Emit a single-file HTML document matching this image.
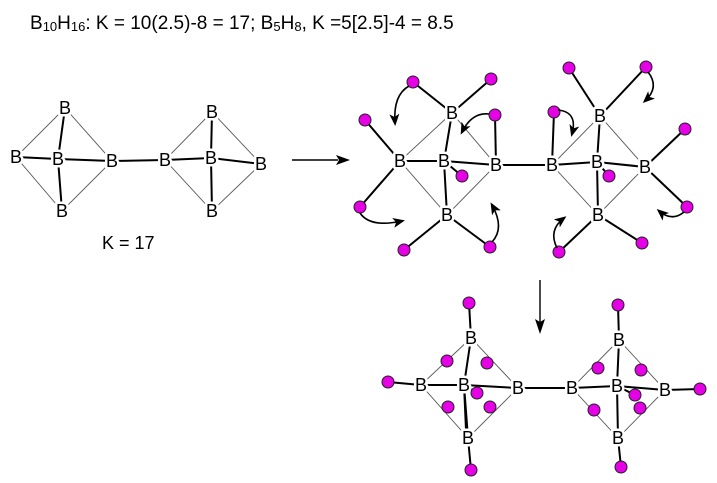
<!DOCTYPE html>
<html><head><style>
body{margin:0;background:#fff;}
svg{display:block;}
text{font-family:"Liberation Sans",sans-serif;fill:#000;}
.b{font-size:18px;text-anchor:middle;dominant-baseline:central;stroke:#fff;stroke-width:5px;paint-order:stroke;stroke-linejoin:round;}
.tn{stroke:#555;stroke-width:0.9;fill:none;}
.tk{stroke:#000;stroke-width:2;fill:none;}
.h{fill:#e600e6;stroke:#222;stroke-width:1;}
.cv{stroke:#000;stroke-width:1.6;fill:none;marker-end:url(#ah);}
</style></head><body>
<svg width="717" height="483" viewBox="0 0 717 483">
<defs><marker id="ah" markerWidth="12" markerHeight="10" refX="9" refY="5" orient="auto" markerUnits="userSpaceOnUse"><path d="M0,0 L12,5 L0,10 L3,5 Z" fill="#000"/></marker></defs>
<text x="30" y="29" font-size="19">B<tspan font-size="13" dy="2">10</tspan><tspan dy="-2">H</tspan><tspan font-size="13" dy="2">16</tspan><tspan dy="-2">: K = 10(2.5)-8 = 17; B</tspan><tspan font-size="13" dy="2">5</tspan><tspan dy="-2">H</tspan><tspan font-size="13" dy="2">8</tspan><tspan dy="-2">, K =5[2.5]-4 = 8.5</tspan></text>

<!-- left molecule -->
<path class="tn" d="M65,108 L16,157 L62,211 L112,161 Z M212,112 L165,160 L212,211 L261,164 Z"/>
<path class="tk" d="M65,108 L58,159 L62,211 M16,157 L58,159 L112,161 L165,160 L211,158 L261,164 M212,112 L211,158 L212,211"/>
<text class="b" x="65" y="108">B</text><text class="b" x="16" y="157">B</text><text class="b" x="58" y="159">B</text><text class="b" x="112" y="161">B</text><text class="b" x="62" y="211">B</text>
<text class="b" x="165" y="160">B</text><text class="b" x="212" y="112">B</text><text class="b" x="211" y="158">B</text><text class="b" x="261" y="164">B</text><text class="b" x="212" y="211">B</text>
<text x="102" y="249" font-size="18">K = 17</text>
<path d="M292,160 L338,160" stroke="#000" stroke-width="1.4"/><path d="M350,160 L336,155 L339,160 L336,165 Z"/>

<!-- middle -->
<path class="tn" d="M452,113 L400,161 L447,215 L496,165 Z M600,116 L552,165 L598,215 L645,167 Z"/>
<path class="tk" d="M452,113 L444,161 L447,215 M400,161 L444,161 L496,165 L552,165 L597,162 L645,167 M600,116 L597,162 L598,215
M413,82 L452,113 L491,79 M365,120 L400,161 L360,207 M404,250 L447,215 L490,247 M495,115 L496,165 M462,176 L444,161
M569,68 L600,116 L646,67 M554,112 L552,165 M685,129 L645,167 L687,207 M559,252 L598,215 L642,243 M609,176 L597,162"/>
<circle class="h" cx="413" cy="82" r="6"/><circle class="h" cx="491" cy="79" r="6"/><circle class="h" cx="365" cy="120" r="6"/><circle class="h" cx="495" cy="115" r="6"/><circle class="h" cx="360" cy="207" r="6"/><circle class="h" cx="404" cy="250" r="6"/><circle class="h" cx="490" cy="247" r="6"/><circle class="h" cx="462" cy="176" r="6"/>
<circle class="h" cx="569" cy="68" r="6"/><circle class="h" cx="646" cy="67" r="6"/><circle class="h" cx="554" cy="112" r="6"/><circle class="h" cx="685" cy="129" r="6"/><circle class="h" cx="687" cy="207" r="6"/><circle class="h" cx="559" cy="252" r="6"/><circle class="h" cx="642" cy="243" r="6"/><circle class="h" cx="609" cy="176" r="6"/>
<text class="b" x="452" y="113">B</text><text class="b" x="400" y="161">B</text><text class="b" x="444" y="161">B</text><text class="b" x="496" y="165">B</text><text class="b" x="447" y="215">B</text>
<text class="b" x="552" y="165">B</text><text class="b" x="600" y="116">B</text><text class="b" x="597" y="162">B</text><text class="b" x="645" y="167">B</text><text class="b" x="598" y="215">B</text>
<path class="cv" d="M409,86 Q393,95 395,123"/>
<path class="cv" d="M489,114 Q472,112 462,132"/>
<path class="cv" d="M360,213 Q370,228 402,221"/>
<path class="cv" d="M492,242 Q505,228 492,205"/>
<path class="cv" d="M558,110 Q578,112 572,134"/>
<path class="cv" d="M648,72 Q660,87 645,101"/>
<path class="cv" d="M684,212 Q672,222 659,211"/>
<path class="cv" d="M557,248 Q548,230 564,218"/>

<path d="M540,280 L540,322" stroke="#000" stroke-width="1.4"/><path d="M540,334 L535,319 L540,322 L545,319 Z"/>

<!-- bottom -->
<path class="tn" d="M471,338 L421,385 L468,438 L518,388 Z M619,340 L572,388 L618,438 L665,390 Z"/>
<path class="tk" d="M469,303 L471,338 L464,385 L468,438 L471,470 M388,382 L421,385 L464,385 L518,388 L572,388 L617,386 L665,390 L700,389 M619,340 L617,386 L618,438 L621,467 M618,305 L619,340 M464,385 L477,393 M617,386 L635,395 M464,385 L466,430"/>
<circle class="h" cx="469" cy="303" r="6"/><circle class="h" cx="388" cy="382" r="6"/><circle class="h" cx="447" cy="361" r="6"/><circle class="h" cx="487" cy="363" r="6"/><circle class="h" cx="448" cy="407" r="6"/><circle class="h" cx="490" cy="407" r="6"/><circle class="h" cx="477" cy="393" r="6"/><circle class="h" cx="471" cy="470" r="6"/>
<circle class="h" cx="618" cy="305" r="6"/><circle class="h" cx="700" cy="389" r="6"/><circle class="h" cx="598" cy="368" r="6"/><circle class="h" cx="641" cy="370" r="6"/><circle class="h" cx="594" cy="410" r="6"/><circle class="h" cx="640" cy="408" r="6"/><circle class="h" cx="635" cy="395" r="6"/><circle class="h" cx="621" cy="467" r="6"/>
<text class="b" x="471" y="338">B</text><text class="b" x="421" y="385">B</text><text class="b" x="464" y="385">B</text><text class="b" x="518" y="388">B</text><text class="b" x="468" y="438">B</text>
<text class="b" x="572" y="388">B</text><text class="b" x="619" y="340">B</text><text class="b" x="617" y="386">B</text><text class="b" x="665" y="390">B</text><text class="b" x="618" y="438">B</text>
</svg>
</body></html>
